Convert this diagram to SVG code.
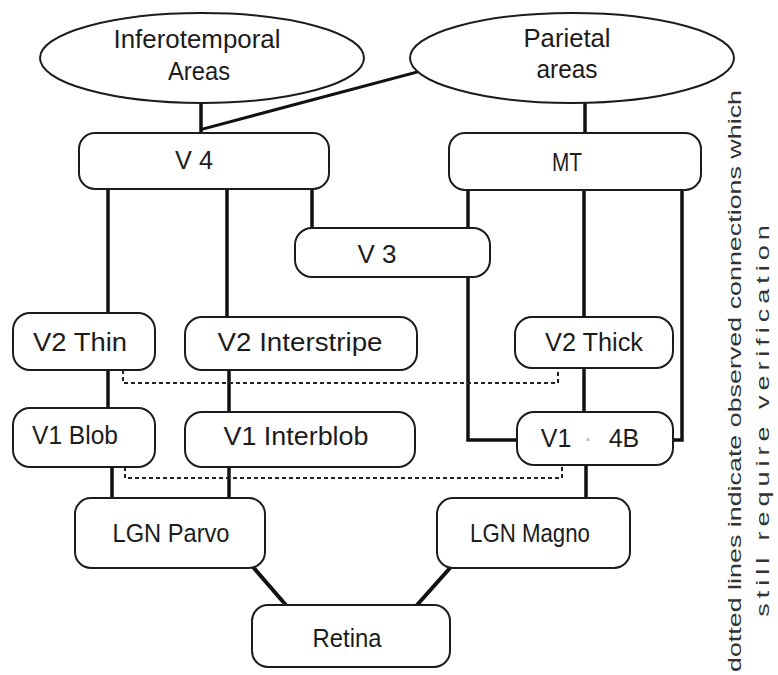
<svg xmlns="http://www.w3.org/2000/svg" width="778" height="675" viewBox="0 0 778 675">
<style>
.n{fill:#fff;stroke:#1c1c1c;stroke-width:2}
.t{font-family:"Liberation Sans",Arial,sans-serif;font-size:25px;fill:#1c1c1c;text-anchor:middle}
.c{fill:none;stroke:#111;stroke-width:3.5;stroke-linecap:square;stroke-linejoin:miter}
.d{fill:none;stroke:#222;stroke-width:2;stroke-dasharray:4 3}
.s{font-family:"Liberation Sans",Arial,sans-serif;font-size:18px;fill:#333;text-anchor:middle}
</style>
<rect width="778" height="675" fill="#fff"/>
<g id="connectors">
<path class="c" d="M201,103 V133"/>
<path class="c" d="M417,72 L203,129" style="stroke-width:3"/>
<path class="c" d="M585,103 V133"/>
<path class="c" d="M108,189 V313"/>
<path class="c" d="M227,189 V317"/>
<path class="c" d="M312,189 V228"/>
<path class="c" d="M468,190 V440 H517"/>
<path class="c" d="M584,190 V317"/>
<path class="c" d="M682,190 V440 H673"/>
<path class="c" d="M108,370 V408"/>
<path class="c" d="M229,370 V412"/>
<path class="c" d="M584,368 V412"/>
<path class="c" d="M112,467 V498"/>
<path class="c" d="M229,467 V498"/>
<path class="c" d="M586,465 V498"/>
<path class="c" d="M253,567 L285,604" style="stroke-width:4"/>
<path class="c" d="M450,568 L417,605" style="stroke-width:4"/>
<path class="d" d="M123,370 V383 H558 V368"/>
<path class="d" d="M125,467 V478 H562 V465"/>
</g>
<g id="inferotemporal">
<ellipse class="n" cx="202" cy="58" rx="162" ry="45"/>
<text class="t" x="197" y="48" textLength="167" lengthAdjust="spacingAndGlyphs">Inferotemporal</text>
<text class="t" x="199" y="80" textLength="62" lengthAdjust="spacingAndGlyphs">Areas</text>
</g>
<g id="parietal">
<ellipse class="n" cx="572" cy="58" rx="162" ry="45"/>
<text class="t" x="567" y="47" textLength="87" lengthAdjust="spacingAndGlyphs">Parietal</text>
<text class="t" x="567" y="78" textLength="61" lengthAdjust="spacingAndGlyphs">areas</text>
</g>
<g id="v4">
<rect class="n" x="79" y="133" width="250" height="56" rx="16"/>
<text class="t" x="194" y="169" textLength="38" lengthAdjust="spacingAndGlyphs">V 4</text>
</g>
<g id="mt">
<rect class="n" x="449" y="133" width="252" height="57" rx="16"/>
<text class="t" x="567" y="171" textLength="30" lengthAdjust="spacingAndGlyphs">MT</text>
</g>
<g id="v3">
<rect class="n" x="295" y="228" width="195" height="49" rx="17"/>
<text class="t" x="377" y="263" textLength="39" lengthAdjust="spacingAndGlyphs">V 3</text>
</g>
<g id="v2thin">
<rect class="n" x="13" y="313" width="142" height="57" rx="17"/>
<text class="t" x="80" y="351" textLength="94" lengthAdjust="spacingAndGlyphs">V2 Thin</text>
</g>
<g id="v2interstripe">
<rect class="n" x="185" y="317" width="232" height="53" rx="17"/>
<text class="t" x="300" y="351" textLength="165" lengthAdjust="spacingAndGlyphs">V2 Interstripe</text>
</g>
<g id="v2thick">
<rect class="n" x="515" y="317" width="158" height="51" rx="17"/>
<text class="t" x="594" y="351" textLength="98" lengthAdjust="spacingAndGlyphs">V2 Thick</text>
</g>
<g id="v1blob">
<rect class="n" x="13" y="408" width="142" height="59" rx="17"/>
<text class="t" x="75" y="444" textLength="86" lengthAdjust="spacingAndGlyphs">V1 Blob</text>
</g>
<g id="v1interblob">
<rect class="n" x="185" y="412" width="230" height="55" rx="17"/>
<text class="t" x="296" y="445" textLength="145" lengthAdjust="spacingAndGlyphs">V1 Interblob</text>
</g>
<g id="v1-4b">
<rect class="n" x="517" y="412" width="156" height="53" rx="17"/>
<text class="t" y="447"><tspan x="556">V1</tspan><tspan x="588" style="fill:#bbb">·</tspan><tspan x="624">4B</tspan></text>
</g>
<g id="lgnparvo">
<rect class="n" x="75" y="498" width="190" height="70" rx="16"/>
<text class="t" x="171" y="542" textLength="117" lengthAdjust="spacingAndGlyphs">LGN Parvo</text>
</g>
<g id="lgnmagno">
<rect class="n" x="437" y="498" width="193" height="70" rx="16"/>
<text class="t" x="530" y="542" textLength="120" lengthAdjust="spacingAndGlyphs">LGN Magno</text>
</g>
<g id="retina">
<rect class="n" x="252" y="605" width="198" height="62" rx="16"/>
<text class="t" x="347" y="647" textLength="69" lengthAdjust="spacingAndGlyphs">Retina</text>
</g>
<g id="note">
<text class="s" transform="translate(741,381) rotate(-90) scale(1.5,1)" textLength="388" lengthAdjust="spacingAndGlyphs">dotted lines indicate observed connections which</text>
<text class="s" transform="translate(769,421) rotate(-90) scale(1.5,1)" textLength="261" lengthAdjust="spacing">still require verification</text>
</g>
</svg>
